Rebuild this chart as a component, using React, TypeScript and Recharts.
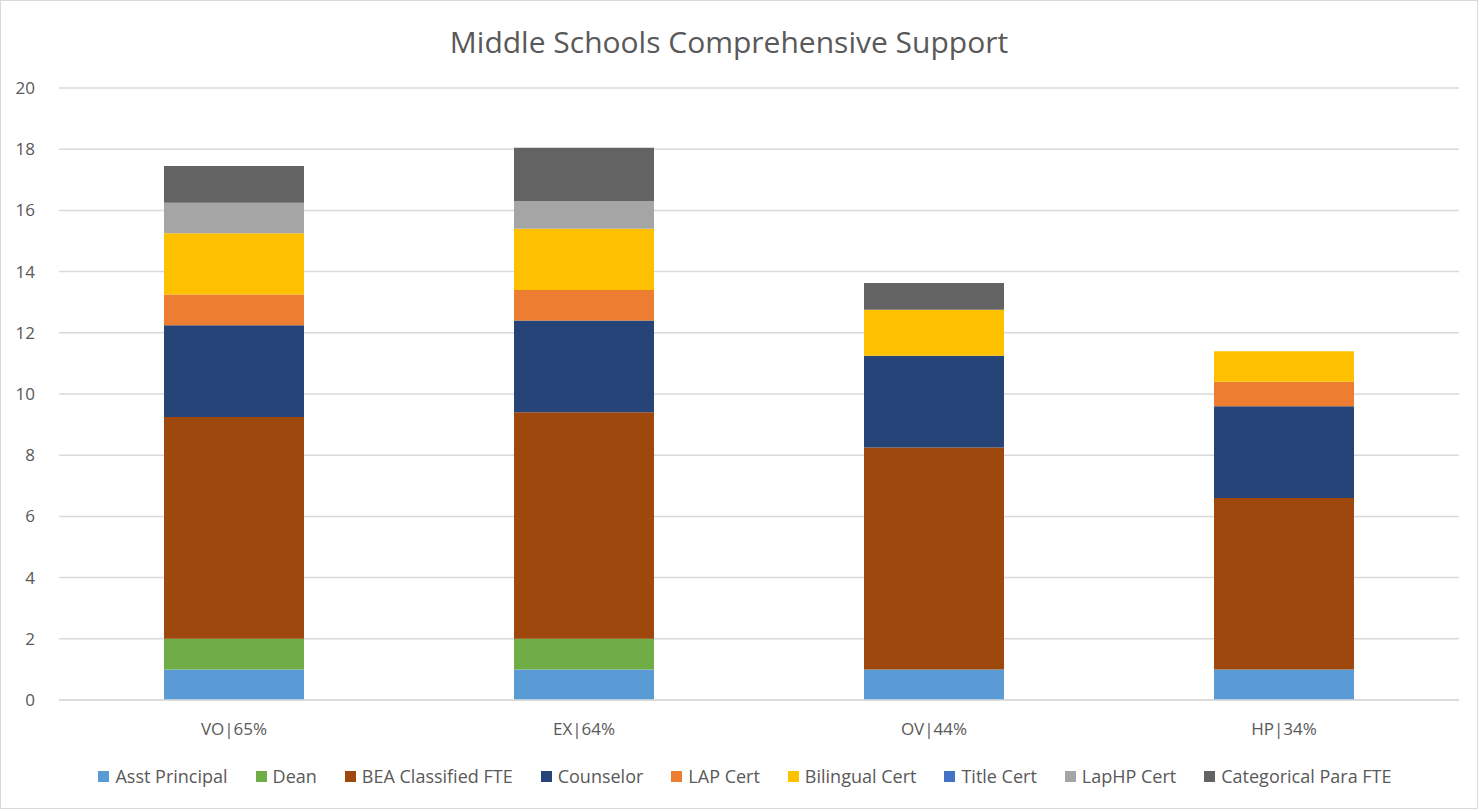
import { BarChart, Bar, XAxis, YAxis, CartesianGrid, Legend } from "recharts";

const schools = ["VO|65%", "EX|64%", "OV|44%", "HP|34%"];
const asstPrincipal = [1, 1, 1, 1];
const dean = [1, 1, 0, 0];
const beaClassified = [7.25, 7.4, 7.25, 5.6];
const counselor = [3, 3, 3, 3];
const lapCert = [1, 1, 0, 0.8];
const bilingualCert = [2, 2, 1.5, 1];
const titleCert = [0, 0, 0, 0];
const lapHpCert = [1, 0.9, 0, 0];
const categoricalPara = [1.2, 1.75, 0.875, 0];
const yTicks = [0, 2, 4, 6, 8, 10, 12, 14, 16, 18, 20];

const series = [
  { key: "ap", name: "Asst Principal", values: asstPrincipal, color: "#5B9BD5" },
  { key: "dean", name: "Dean", values: dean, color: "#70AD47" },
  { key: "bea", name: "BEA Classified FTE", values: beaClassified, color: "#9E480E" },
  { key: "counselor", name: "Counselor", values: counselor, color: "#264478" },
  { key: "lap", name: "LAP Cert", values: lapCert, color: "#ED7D31" },
  { key: "bilingual", name: "Bilingual Cert", values: bilingualCert, color: "#FFC000" },
  { key: "title", name: "Title Cert", values: titleCert, color: "#4472C4" },
  { key: "laphp", name: "LapHP Cert", values: lapHpCert, color: "#A5A5A5" },
  { key: "para", name: "Categorical Para FTE", values: categoricalPara, color: "#636363" },
];

const data = schools.map((s, i) => {
  const row: Record<string, string | number> = { school: s };
  series.forEach((ser) => {
    row[ser.key] = ser.values[i];
  });
  return row;
});

const FONT = "'Open Sans', sans-serif";
const TEXT = "#595959";

function LegendContent() {
  return (
    <div
      style={{
        display: "flex",
        justifyContent: "center",
        gap: 28,
        fontFamily: FONT,
        fontSize: 18,
        color: TEXT,
        marginLeft: 30,
      }}
    >
      {series.map((s) => (
        <div key={s.key} style={{ display: "flex", alignItems: "center" }}>
          <span style={{ width: 11, height: 11, background: s.color, marginRight: 6 }} />
          <span>{s.name}</span>
        </div>
      ))}
    </div>
  );
}

export default function App() {
  return (
    <div
      style={{
        position: "absolute",
        left: 0,
        top: 0,
        width: 1476,
        height: 807,
        border: "1px solid #d9d9d9",
        background: "#fff",
      }}
    >
      <div
        style={{
          position: "absolute",
          top: 20,
          left: 0,
          width: "100%",
          textAlign: "center",
          fontFamily: FONT,
          fontSize: 30,
          color: TEXT,
          paddingRight: 20,
          boxSizing: "border-box",
        }}
      >
        Middle Schools Comprehensive Support
      </div>
      <BarChart
        width={1476}
        height={807}
        data={data}
        margin={{ top: 87, right: 18, left: 0, bottom: 4 }}
        barCategoryGap="30%"
      >
        <CartesianGrid vertical={false} stroke="#d9d9d9" strokeWidth={1.5} />
        <XAxis
          dataKey="school"
          height={64}
          tickLine={false}
          axisLine={{ stroke: "#d9d9d9", strokeWidth: 1.5 }}
          tick={{ fontSize: 17, fill: TEXT, fontFamily: FONT }}
          tickMargin={17}
        />
        <YAxis
          width={58}
          domain={[0, 20]}
          ticks={yTicks}
          axisLine={false}
          tickLine={false}
          tick={{ fontSize: 17, fill: TEXT, fontFamily: FONT }}
          tickMargin={18}
        />
        <Legend verticalAlign="bottom" height={40} content={() => <LegendContent />} />
        {series.map((s) => (
          <Bar
            key={s.key}
            dataKey={s.key}
            name={s.name}
            stackId="a"
            fill={s.color}
            isAnimationActive={false}
          />
        ))}
      </BarChart>
    </div>
  );
}
